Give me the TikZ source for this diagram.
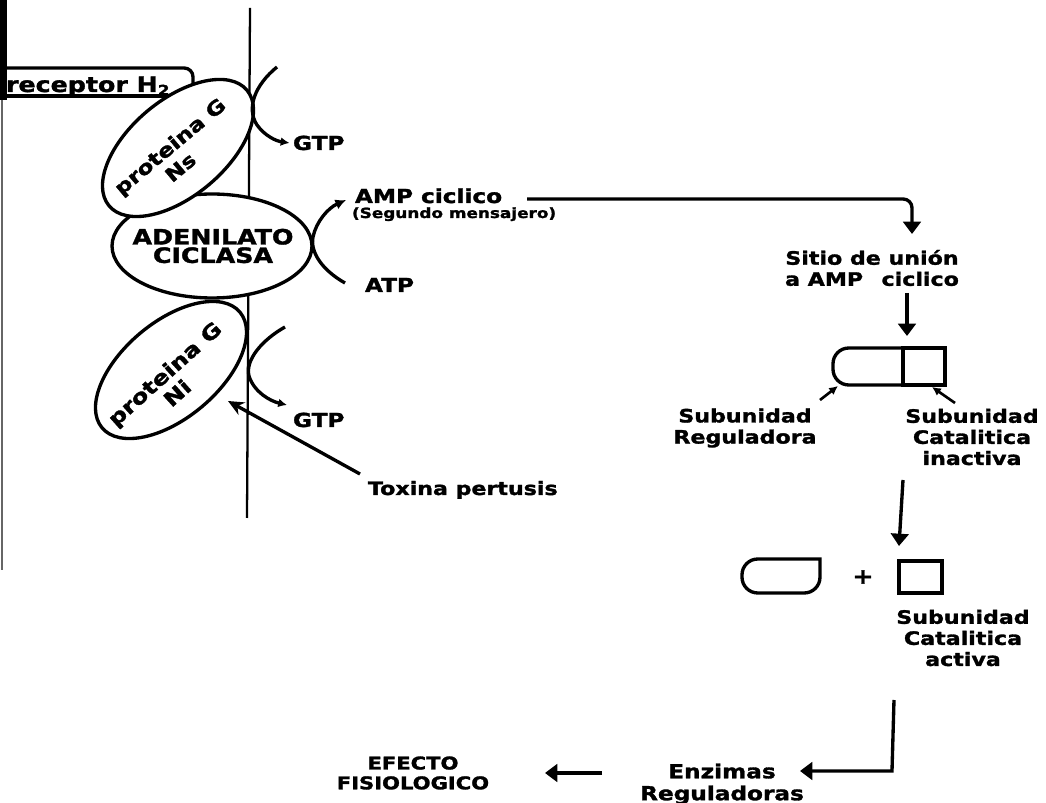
\documentclass[tikz,border=0pt]{standalone}
\usepackage{fontspec}
\setmainfont{DejaVu Sans}[FakeStretch=1.2, BoldFeatures={FakeBold=1.6}]
\usetikzlibrary{shapes.geometric, arrows.meta}
\begin{document}
\begin{tikzpicture}[x=0.02cm, y=-0.02cm,
  every node/.style={inner sep=0pt, outer sep=0pt},
  txt/.style={font=\bfseries\fontsize{#1}{#1}\selectfont},
  txt/.default=11,
  lab/.style={font=\bfseries\fontsize{10.5}{12}\selectfont, align=center},
  lines/.style={line width=1.9pt},
  memb/.style={line width=1.3pt},
  ell/.style={ellipse, draw, line width=1.9pt, fill=white},
  arr/.style={line width=1.9pt, -{Triangle[length=7pt,width=10pt]}},
  small/.style={line width=1.5pt, -{Latex[length=5pt,width=5pt]}},
]
\useasboundingbox (0,0) rectangle (1046,803);

% membrane
\coordinate (mt) at (250,8);
\coordinate (mb) at (247,518);
\draw[memb] (mt) -- (mb);

% receptor box
\draw[lines, rounded corners=5pt] (7,68) -- (193,68) -- (193,110);
\draw[lines] (7,96) -- (180,96);
\node[txt=12, anchor=base west] (rec) at (6,92) {receptor H\textsubscript{2}};

% left margin bar
\fill (0,0) rectangle (7,100);
\draw[line width=0.8pt, black!60] (2,100) -- (2,570);

% adenilato ciclasa
\node[ell, minimum width=4cm, minimum height=2.08cm] (ac) at (212,246) {};
\node[font=\bfseries\fontsize{12}{10.5}\selectfont, align=center] (act) at (213,246) {ADENILATO\\CICLASA};

% proteina G Ns
\node[ell, minimum width=3.6cm, minimum height=1.92cm, rotate=40] (ns) at (178,148) {};
\node[font=\bfseries\fontsize{11}{13}\selectfont, align=center, rotate=40] (nst) at (177,155) {proteina G\\Ns\hspace*{6pt}};

% proteina G Ni
\node[ell, minimum width=3.6cm, minimum height=1.92cm, rotate=40] (ni) at (171,370) {};
\node[font=\bfseries\fontsize{11.5}{13}\selectfont, align=center, rotate=42] (nit) at (172,382) {proteina G\\Ni\hspace*{4pt}};

% GTP 1
\node[txt, anchor=base west] (gtp1) at (293,150) {GTP};
\coordinate (g1s) at (277,67);
\draw[lines, -{Latex[length=5pt,width=5pt]}] (g1s) .. controls (255,85) and (246,108) .. (257,125) .. controls (265,136) and (276,141) .. ([xshift=-2pt]gtp1.west);

% AMP / ATP
\node[txt, anchor=base west] (amp) at (355,203) {AMP ciclico};
\node[font=\bfseries\fontsize{8}{8}\selectfont, anchor=base west] (seg) at (352,218) {(Segundo mensajero)};
\node[txt, anchor=base west] (atp) at (365,292) {ATP};
\coordinate (atps) at (345,283);
\coordinate (ampe) at (346,200);
\draw[lines, -{Latex[length=6pt,width=6pt]}] (atps) .. controls (322,270) and (310,252) .. (313,237) .. controls (316,222) and (328,208) .. (ampe);

% GTP 2
\node[txt, anchor=base west] (gtp2) at (293,427) {GTP};
\coordinate (g2s) at (285,327);
\coordinate (g2e) at (287,405);
\draw[lines, -{Latex[length=5pt,width=5pt]}] (g2s) .. controls (262,340) and (245,360) .. (249,376) .. controls (254,392) and (270,401) .. (g2e);

% Toxina pertusis
\node[txt=10.5, anchor=base west] (tox) at (368,495) {Toxina pertusis};
\coordinate (toxs) at (360,474);
\coordinate (toxe) at (228,401);
\draw[lines, -{Stealth[length=9pt,width=8pt]}] (toxs) -- (toxe);

% right column
\coordinate (amps) at (527,199);
\node[lab] (sitio) at (872,268) {Sitio de unión\\a AMP\quad ciclico};
\coordinate (sitin) at (912,234);
\draw[arr, rounded corners=5pt] (amps) -- (912,199) -- (sitin);

\coordinate (sitout) at (907,293);
\coordinate (boxin) at (907,336);
\draw[arr] (sitout) -- (boxin);

% inactive complex
\draw[lines] (903,348) [rounded corners=9pt] -- (833,348) -- (833,385) -- (903,385);
\draw[lines] (903,348) rectangle (945,385);
\coordinate (rs) at (820,400); \coordinate (re) at (838,386);
\draw[small] (rs) -- (re);
\coordinate (cs) at (955,403); \coordinate (ce) at (932,387);
\draw[small] (cs) -- (ce);
\node[lab] (subreg) at (745,428) {Subunidad\\Reguladora};
\node[lab] (subcat) at (972,437) {Subunidad\\Catalitica\\inactiva};

\coordinate (d1) at (903,480); \coordinate (d2) at (899,546);
\draw[arr] (d1) -- (d2);

% dissociated subunits
\draw[lines] (820,559) [rounded corners=9pt] -- (742,559) -- (742,593) -- (820,593) [sharp corners] -- cycle;
\node[txt=12] (plus) at (863,577) {+};
\draw[lines] (899,561) rectangle (942,593);
\node[lab] (subact) at (963,638) {Subunidad\\Catalitica\\activa};

% to enzymes
\coordinate (e1) at (894,700); \coordinate (e2) at (800,771);
\draw[arr] (e1) -- (892,771) -- (e2);
\node[font=\bfseries\fontsize{11}{12.5}\selectfont, align=center] (enz) at (722,784) {Enzimas\\Reguladoras};
\coordinate (f1) at (602,773); \coordinate (f2) at (545,773);
\draw[arr] (f1) -- (f2);
\node[font=\bfseries\fontsize{10}{11.3}\selectfont, align=center] (efe) at (413,773) {EFECTO\\FISIOLOGICO};
\end{tikzpicture}
\end{document}
